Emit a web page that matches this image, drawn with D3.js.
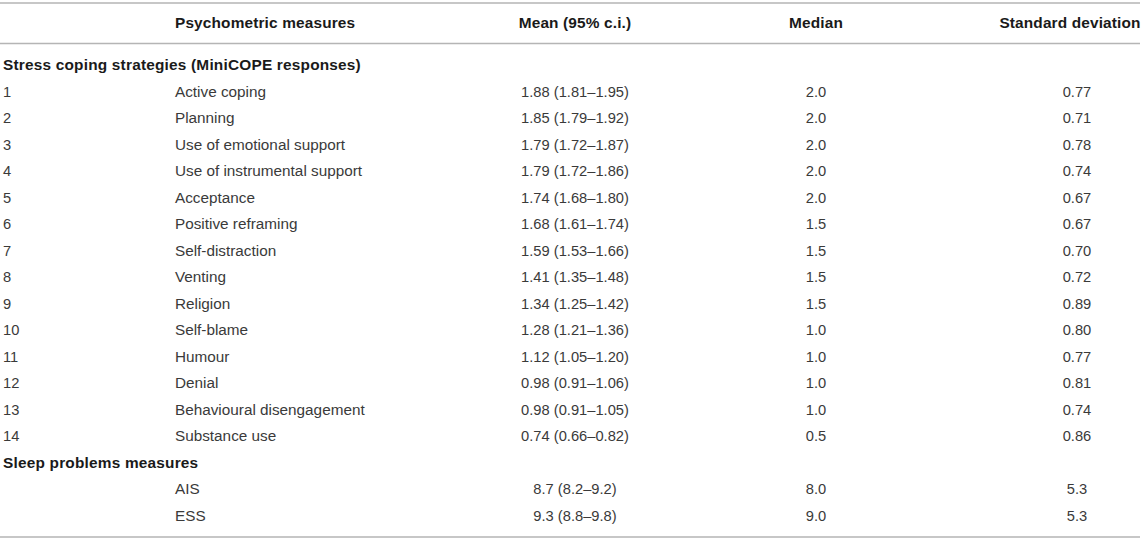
<!DOCTYPE html>
<html>
<head>
<meta charset="utf-8">
<script src="https://cdn.jsdelivr.net/npm/d3@7"></script>
<style>
  body { margin: 0; background: #fff; }
  svg text { font-family: "Liberation Sans", Arial, Helvetica, sans-serif; font-size: 14.7px; }
</style>
</head>
<body>
<svg id="table"></svg>
<script>
let headers = ["Psychometric measures", "Mean (95% c.i.)", "Median", "Standard deviation"]
let sections = ["Stress coping strategies (MiniCOPE responses)", "Sleep problems measures"]

let copingLabels = ["Active coping", "Planning", "Use of emotional support", "Use of instrumental support",
    "Acceptance", "Positive reframing", "Self-distraction", "Venting", "Religion", "Self-blame",
    "Humour", "Denial", "Behavioural disengagement", "Substance use"]
let copingMean   = [1.88, 1.85, 1.79, 1.79, 1.74, 1.68, 1.59, 1.41, 1.34, 1.28, 1.12, 0.98, 0.98, 0.74]
let copingLow    = [1.81, 1.79, 1.72, 1.72, 1.68, 1.61, 1.53, 1.35, 1.25, 1.21, 1.05, 0.91, 0.91, 0.66]
let copingHigh   = [1.95, 1.92, 1.87, 1.86, 1.80, 1.74, 1.66, 1.48, 1.42, 1.36, 1.20, 1.06, 1.05, 0.82]
let copingMedian = [2.0, 2.0, 2.0, 2.0, 2.0, 1.5, 1.5, 1.5, 1.5, 1.0, 1.0, 1.0, 1.0, 0.5]
let copingSD     = [0.77, 0.71, 0.78, 0.74, 0.67, 0.67, 0.70, 0.72, 0.89, 0.80, 0.77, 0.81, 0.74, 0.86]

let sleepLabels = ["AIS", "ESS"]
let sleepMean   = [8.7, 9.3]
let sleepLow    = [8.2, 8.8]
let sleepHigh   = [9.2, 9.8]
let sleepMedian = [8.0, 9.0]
let sleepSD     = [5.3, 5.3]

const W = 1143, H = 540
let svg = d3.select('#table').attr('width', W).attr('height', H)

let f2 = d3.format('.2f'), f1 = d3.format('.1f')

// flatten everything into table rows
let rows = []
rows.push({type: 'section', text: sections[0]})
copingLabels.forEach((lab, i) => {
    rows.push({type: 'item', no: String(i + 1), label: lab,
        mean: f2(copingMean[i]) + ' (' + f2(copingLow[i]) + '\u2013' + f2(copingHigh[i]) + ')',
        median: f1(copingMedian[i]), sd: f2(copingSD[i])})
})
rows.push({type: 'section', text: sections[1]})
sleepLabels.forEach((lab, i) => {
    rows.push({type: 'item', no: '', label: lab,
        mean: f1(sleepMean[i]) + ' (' + f1(sleepLow[i]) + '\u2013' + f1(sleepHigh[i]) + ')',
        median: f1(sleepMedian[i]), sd: f1(sleepSD[i])})
})

let y = d3.scalePoint()
    .domain(d3.range(rows.length))
    .range([70.4, 70.4 + (rows.length - 1) * 26.5])

// column anchors
let col = d3.scaleOrdinal()
    .domain(['no', 'label', 'mean', 'median', 'sd'])
    .range([3, 175, 575, 816, 1077])

// rules
let rules = [3, 43.5, 537]
svg.selectAll('line.rule')
    .data(rules)
    .enter()
    .append('line')
    .attr('class', 'rule')
    .attr('x1', 0).attr('x2', 1140)
    .attr('y1', (d) => d).attr('y2', (d) => d)
    .attr('stroke', '#b5b5b5')
    .attr('stroke-width', 1.6)

// header
let headX = [175, 575, 816, 1070]
let headAnchor = ['start', 'middle', 'middle', 'middle']
svg.selectAll('text.head')
    .data(headers)
    .enter()
    .append('text')
    .attr('class', 'head')
    .attr('x', (d, i) => headX[i])
    .attr('y', 27.5)
    .attr('text-anchor', (d, i) => headAnchor[i])
    .attr('font-weight', 'bold')
    .style('font-size', '15.4px')
    .attr('letter-spacing', 0.15)
    .attr('fill', '#1a1a1a')
    .text((d) => d)

// body rows
let g = svg.selectAll('g.row')
    .data(rows)
    .enter()
    .append('g')
    .attr('class', 'row')
    .attr('transform', (d, i) => 'translate(0,' + y(i) + ')')

g.filter((d) => d.type === 'section')
    .append('text')
    .attr('x', 3)
    .attr('font-weight', 'bold')
    .style('font-size', '15.4px')
    .attr('letter-spacing', 0.2)
    .attr('fill', '#1a1a1a')
    .text((d) => d.text)

let items = g.filter((d) => d.type === 'item')
let cells = [['no', 'start'], ['label', 'start'], ['mean', 'middle'], ['median', 'middle'], ['sd', 'middle']]
cells.forEach(([key, anchor]) => {
    items.append('text')
        .attr('x', col(key))
        .attr('text-anchor', anchor)
        .style('font-size', key === 'label' ? '15.3px' : '14.7px')
        .attr('fill', '#3a3a3a')
        .text((d) => d[key])
})
</script>
</body>
</html>
